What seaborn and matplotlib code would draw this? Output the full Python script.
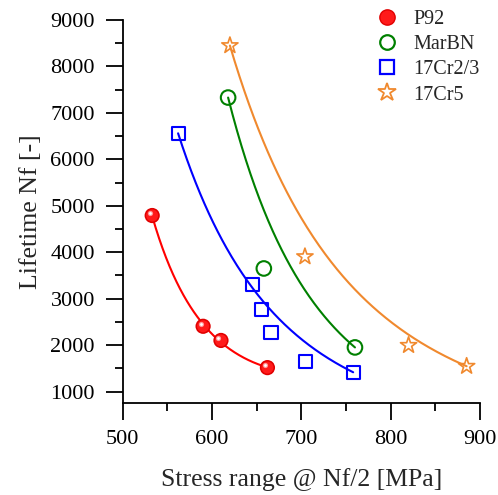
import numpy as np
import pandas as pd
import matplotlib
matplotlib.use("Agg")
import matplotlib.pyplot as plt
import matplotlib.transforms as mtransforms
import seaborn as sns
from matplotlib.ticker import MultipleLocator
from matplotlib.lines import Line2D

# --- data ---
p92_stress = [533, 590, 610, 662]
p92_life = [4790, 2405, 2100, 1515]
marbn_stress = [618, 658, 760]
marbn_life = [7330, 3650, 1950]
cr23_stress = [562, 645, 655, 666, 705, 758]
cr23_life = [6560, 3305, 2775, 2270, 1645, 1415]
cr5_stress = [620, 704, 820, 885]
cr5_life = [8450, 3905, 1995, 1545]

names = ['P92', 'MarBN', '17Cr2/3', '17Cr5']
colors = ['#ff0000', '#008000', '#0000ff', '#f0892e']
# trend curve type per series
fit_kind = ['logquad', 'ends', 'ends', 'ends']


def trend(s, n, kind):
    s = np.array(s, dtype=float)
    n = np.array(n, dtype=float)
    xs = np.linspace(s.min(), s.max(), 200)
    if kind == 'logquad':
        p = np.polyfit(s, np.log(n), 2)
        ys = np.exp(np.polyval(p, xs))
    else:
        # power law N = a*S^b through the first and last points
        b = np.log(n[-1] / n[0]) / np.log(s[-1] / s[0])
        ys = n[0] * (xs / s[0]) ** b
    return pd.DataFrame({'x': xs, 'y': ys})


sns.set_style('ticks')
plt.rcParams['font.family'] = ['Liberation Serif', 'DejaVu Serif']

fig = plt.figure(figsize=(4.98, 4.95), dpi=100)
ax = fig.add_axes([0.2464, 0.1865, 0.7175, 0.7731])

series = [(p92_stress, p92_life), (marbn_stress, marbn_life),
          (cr23_stress, cr23_life), (cr5_stress, cr5_life)]

for (s, n), c, k in zip(series, colors, fit_kind):
    sns.lineplot(data=trend(s, n, k), x='x', y='y', color=c, lw=1.5, ax=ax, legend=False)

# P92: shaded red spheres
sns.scatterplot(x=p92_stress, y=p92_life, color='#e00000', s=120, marker='o',
                edgecolor='none', ax=ax, zorder=5)
sns.scatterplot(x=p92_stress, y=p92_life, color='#ff1a1a', s=75, marker='o',
                edgecolor='none', ax=ax, zorder=6)
hl = ax.transData + mtransforms.ScaledTranslation(-1.8 / 72, 1.8 / 72, fig.dpi_scale_trans)
ax.scatter(p92_stress, p92_life, s=14, color='#ff9a9a', linewidths=0, zorder=7, transform=hl)
ax.scatter(p92_stress, p92_life, s=4, color='white', linewidths=0, zorder=8, transform=hl)

sns.scatterplot(x=marbn_stress, y=marbn_life, marker='o', s=110, facecolor='none',
                edgecolor=colors[1], linewidth=1.5, ax=ax, zorder=5)
sns.scatterplot(x=cr23_stress, y=cr23_life, marker='s', s=90, facecolor='none',
                edgecolor=colors[2], linewidth=1.5, ax=ax, zorder=5)
sns.scatterplot(x=cr5_stress, y=cr5_life, marker='*', s=150, facecolor='none',
                edgecolor=colors[3], linewidth=1.2, ax=ax, zorder=5)

ax.set_xlim(500, 900)
ax.set_ylim(760, 9000)
ax.xaxis.set_major_locator(MultipleLocator(100))
ax.xaxis.set_minor_locator(MultipleLocator(50))
ax.set_yticks(range(1000, 9001, 1000))
ax.yaxis.set_minor_locator(MultipleLocator(500))
ax.tick_params(which='major', direction='out', length=12, width=1.3, colors='black',
               labelsize=16, pad=8)
ax.tick_params(which='minor', direction='out', length=6, width=1.3, colors='black')
for sp in ['top', 'right']:
    ax.spines[sp].set_visible(False)
for sp in ['left', 'bottom']:
    ax.spines[sp].set_linewidth(1.3)
    ax.spines[sp].set_color('black')

ax.set_xlabel('Stress range @ Nf/2 [MPa]', fontsize=18.5, labelpad=13)
ax.set_ylabel('Lifetime Nf [-]', fontsize=18.5, labelpad=6)

handles = [
    Line2D([], [], ls='none', marker='o', ms=11, mfc='#ff1a1a', mec='#e00000'),
    Line2D([], [], ls='none', marker='o', ms=10.5, mfc='none', mec=colors[1], mew=1.6),
    Line2D([], [], ls='none', marker='s', ms=9.5, mfc='none', mec=colors[2], mew=1.6),
    Line2D([], [], ls='none', marker='*', ms=13.5, mfc='none', mec=colors[3], mew=1.3),
]
fig.legend(handles, names, loc='upper left', bbox_to_anchor=(377 / 498, 1 - 10 / 495),
           frameon=False, fontsize=14.5, handlelength=1.0, handletextpad=0.8,
           labelspacing=0.3, borderpad=0, borderaxespad=0)

fig.savefig('out.png', dpi=100)
